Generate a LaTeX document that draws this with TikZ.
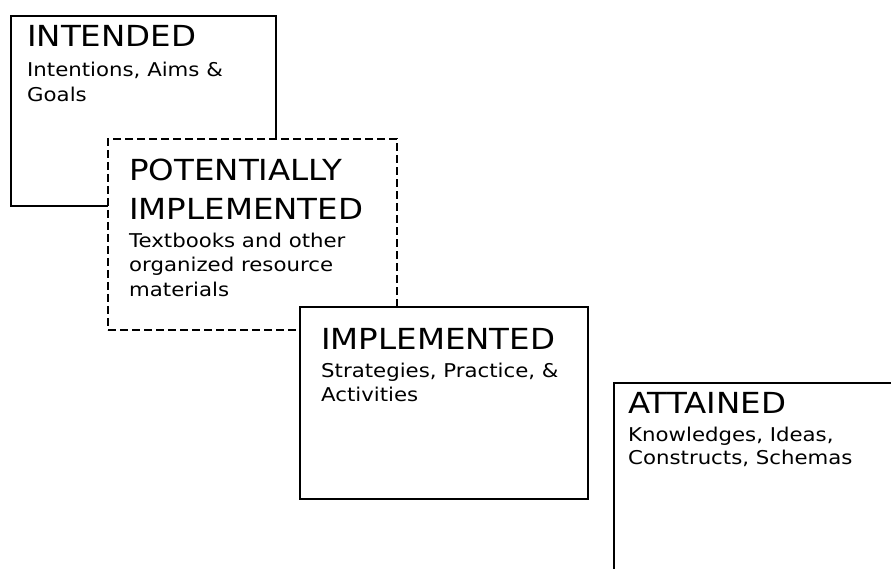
\documentclass[tikz,border=0pt]{standalone}
\usepackage{fontspec}
\setmainfont[FakeStretch=1.12]{DejaVu Sans}
\begin{document}
\begin{tikzpicture}[x=1pt,y=-1pt,
  stagebox/.style={draw=black, line width=2pt, fill=white, rectangle, inner sep=0pt, anchor=north west},
  dashbox/.style={stagebox, dash pattern=on 8pt off 4pt},
  headtext/.style={anchor=base west, inner sep=0pt, font=\fontsize{29}{39}\selectfont},
  bodytext/.style={anchor=base west, inner sep=0pt, font=\fontsize{19}{24.5}\selectfont}]
\useasboundingbox (0,0) rectangle (891,569);
\fill[white] (0,0) rectangle (891,569);
% Box 1
\node[stagebox, minimum width=265pt, minimum height=190pt] (intended) at (10,15) {};
\node[headtext] (h1) at (27,47) {INTENDED};
\node[bodytext] (b1a) at (27,77) {Intentions, Aims \&};
\node[bodytext] (b1b) at (27,102) {Goals};
% Box 2
\node[dashbox, minimum width=289pt, minimum height=191pt] (potential) at (107,138) {};
\node[headtext] (h2a) at (129,181) {POTENTIALLY};
\node[headtext] (h2b) at (129,220) {IMPLEMENTED};
\node[bodytext] (b2a) at (129,248) {Textbooks and other};
\node[bodytext] (b2b) at (129,272) {organized resource};
\node[bodytext] (b2c) at (129,297) {materials};
% Box 3
\node[stagebox, minimum width=288pt, minimum height=192pt] (implemented) at (299,306) {};
\node[headtext] (h3) at (321,349) {IMPLEMENTED};
\node[bodytext] (b3a) at (321,377) {Strategies, Practice, \&};
\node[bodytext] (b3b) at (321,401) {Activities};
% Box 4
\node[stagebox, minimum width=300pt, minimum height=220pt] (attained) at (613,382) {};
\node[headtext] (h4) at (628,413) {ATTAINED};
\node[bodytext] (b4a) at (628,441) {Knowledges, Ideas,};
\node[bodytext] (b4b) at (628,464) {Constructs, Schemas};
\end{tikzpicture}
\end{document}
